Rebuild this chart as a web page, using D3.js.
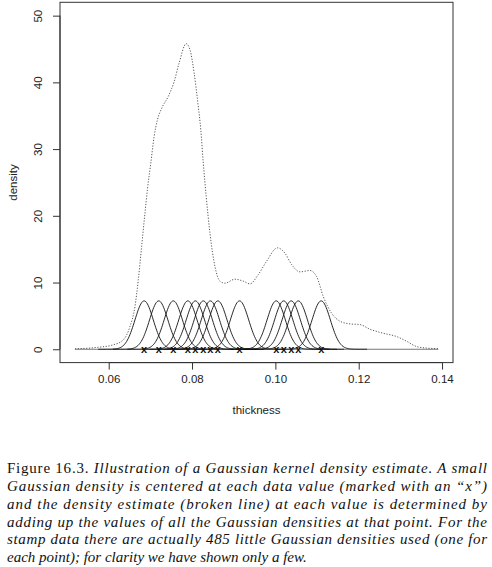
<!DOCTYPE html>
<html>
<head>
<meta charset="utf-8">
<script src="https://cdn.jsdelivr.net/npm/d3@7"></script>
<style>
  body { margin: 0; background: #fff; }
  svg { display: block; }
</style>
</head>
<body>
<div id="chart"></div>
<script>
// data values marked with an "x"
var stampPoints = [0.0685, 0.0720, 0.0755, 0.0790, 0.0808, 0.0827, 0.0844, 0.0862,
                   0.0914, 0.1002, 0.1020, 0.1038, 0.1055, 0.1110];

// kernel density estimate (broken line)
var gridX = [0.0519, 0.0571, 0.0611, 0.0635, 0.0651, 0.0663, 0.0671, 0.0679, 0.0687, 0.0693,
             0.0701, 0.0709, 0.0717, 0.0727, 0.0743, 0.0757, 0.0769, 0.0786, 0.0795, 0.0805,
             0.0814, 0.0821, 0.0827, 0.0834, 0.0843, 0.0855, 0.0867, 0.0879, 0.0903, 0.0923,
             0.0939, 0.0959, 0.0979, 0.1005, 0.1023, 0.1039, 0.1059, 0.1083, 0.1099, 0.1115,
             0.1135, 0.1155, 0.1179, 0.1203, 0.1227, 0.1259, 0.1291, 0.1315, 0.1339, 0.1363,
             0.1391];
var densityY = [0.07, 0.27, 0.67, 1.4, 3.4, 6.4, 10.4, 15.4, 20.4, 24.0,
                27.9, 31.9, 34.4, 36.1, 37.9, 40.1, 42.9, 45.8, 44.9, 41.4,
                36.9, 32.9, 27.9, 22.9, 17.4, 12.4, 10.2, 9.9, 10.5, 10.2,
                9.8, 11.2, 13.2, 15.2, 14.4, 12.7, 11.6, 11.8, 10.9, 7.9,
                5.4, 4.2, 3.8, 3.7, 3.0, 2.4, 1.9, 1.2, 0.4, 0.18,
                0.08];

// small gaussians: peak height and bandwidth
var kernelPeak = 7.25;
var kernelSd = 0.0022;

var xTicks = [0.06, 0.08, 0.10, 0.12, 0.14];
var yTicks = [0, 10, 20, 30, 40, 50];

var captionLines = [
  [["Figure 16.3. ", "normal"], ["Illustration of a Gaussian kernel density estimate. A small", "italic"]],
  [["Gaussian density is centered at each data value (marked with an \u201cx\u201d)", "italic"]],
  [["and the density estimate (broken line) at each value is determined by", "italic"]],
  [["adding up the values of all the Gaussian densities at that point. For the", "italic"]],
  [["stamp data there are actually 485 little Gaussian densities used (one for", "italic"]],
  [["each point); for clarity we have shown only a few.", "italic"]]
];

var W = 492, H = 567;
var box = { left: 60, right: 453, top: 2.3, bottom: 362.6 };

var svg = d3.select("#chart").append("svg")
    .attr("width", W)
    .attr("height", H);

var x = d3.scaleLinear().domain([0.04831, 0.14263]).range([box.left, box.right]);
var y = d3.scaleLinear().domain([-2, 52]).range([box.bottom, box.top]);

// frame
svg.append("rect")
    .attr("x", box.left).attr("y", box.top)
    .attr("width", box.right - box.left).attr("height", box.bottom - box.top)
    .attr("fill", "none").attr("stroke", "#333").attr("stroke-width", 1);

// x axis (R style, ticks below the frame)
var xAxis = svg.append("g")
    .attr("transform", "translate(0," + box.bottom + ")")
    .call(d3.axisBottom(x).tickValues(xTicks).tickSize(7).tickPadding(5)
        .tickFormat(d3.format(".2f")));
xAxis.select(".domain").attr("stroke", "#333").attr("d",
    "M" + x(xTicks[0]) + ",0H" + x(xTicks[xTicks.length - 1]));
xAxis.selectAll("line").attr("stroke", "#333");
xAxis.selectAll("text")
    .attr("font-family", "Liberation Sans, Arial, sans-serif")
    .attr("font-size", 11.5).attr("fill", "#222");

// y axis with rotated labels
var yAxis = svg.append("g")
    .attr("transform", "translate(" + box.left + ",0)")
    .call(d3.axisLeft(y).tickValues(yTicks).tickSize(7).tickFormat(d3.format("d")));
yAxis.select(".domain").attr("stroke", "#333").attr("d",
    "M0," + y(yTicks[0]) + "V" + y(yTicks[yTicks.length - 1]));
yAxis.selectAll("line").attr("stroke", "#333");
yAxis.selectAll("text")
    .attr("font-family", "Liberation Sans, Arial, sans-serif")
    .attr("font-size", 11.5).attr("fill", "#222")
    .attr("x", null).attr("dy", null)
    .attr("text-anchor", "middle")
    .attr("transform", "translate(-18,0) rotate(-90)");

// axis titles
svg.append("text")
    .attr("x", (box.left + box.right) / 2).attr("y", 414)
    .attr("text-anchor", "middle")
    .attr("font-family", "Liberation Sans, Arial, sans-serif")
    .attr("font-size", 11.5).attr("fill", "#222")
    .text("thickness");
svg.append("text")
    .attr("transform", "translate(17," + (box.top + box.bottom) / 2 + ") rotate(-90)")
    .attr("text-anchor", "middle")
    .attr("font-family", "Liberation Sans, Arial, sans-serif")
    .attr("font-size", 11.5).attr("fill", "#222")
    .text("density");

var curve = d3.line()
    .x(function (d) { return x(d[0]); })
    .y(function (d) { return y(d[1]); });

// zero line under the bumps
svg.append("path")
    .datum([[gridX[0], 0], [gridX[gridX.length - 1], 0]])
    .attr("fill", "none")
    .attr("stroke", "#555")
    .attr("stroke-width", 0.8)
    .attr("d", curve);

// small gaussians, one per point
svg.append("g").selectAll("path")
    .data(stampPoints)
    .enter()
    .append("path")
    .attr("fill", "none")
    .attr("stroke", "#111")
    .attr("stroke-width", 0.9)
    .attr("d", function (c) {
        var pts = d3.range(c - 5 * kernelSd, c + 5 * kernelSd + 1e-6, 0.0002);
        return curve(pts.map(function (t) {
            var z = (t - c) / kernelSd;
            return [t, kernelPeak * Math.exp(-0.5 * z * z)];
        }));
    });

// density estimate, broken line
svg.append("path")
    .datum(gridX.map(function (d, i) { return [d, densityY[i]]; }))
    .attr("fill", "none")
    .attr("stroke", "#444")
    .attr("stroke-width", 0.9)
    .attr("stroke-dasharray", "1.2,1.6")
    .attr("d", d3.line()
        .curve(d3.curveMonotoneX)
        .x(function (d) { return x(d[0]); })
        .y(function (d) { return y(d[1]); }));

// "x" marks at the data values
svg.append("g").selectAll("text")
    .data(stampPoints)
    .enter()
    .append("text")
    .attr("x", function (d) { return x(d); })
    .attr("y", y(0) + 4)
    .attr("text-anchor", "middle")
    .attr("font-family", "Liberation Sans, Arial, sans-serif")
    .attr("font-weight", "bold")
    .attr("font-size", 11)
    .attr("fill", "#111")
    .text("x");

// caption
var capY = [473, 491, 508.5, 526.5, 544, 561.5];
captionLines.forEach(function (parts, i) {
    var t = svg.append("text")
        .attr("x", 7).attr("y", capY[i])
        .attr("font-family", "Liberation Serif, DejaVu Serif, serif")
        .attr("font-size", 15).attr("fill", "#111");
    if (i < captionLines.length - 1) {
        t.attr("textLength", 480).attr("lengthAdjust", "spacing");
    }
    parts.forEach(function (p) {
        t.append("tspan").attr("font-style", p[1]).text(p[0]);
    });
});
</script>
</body>
</html>
